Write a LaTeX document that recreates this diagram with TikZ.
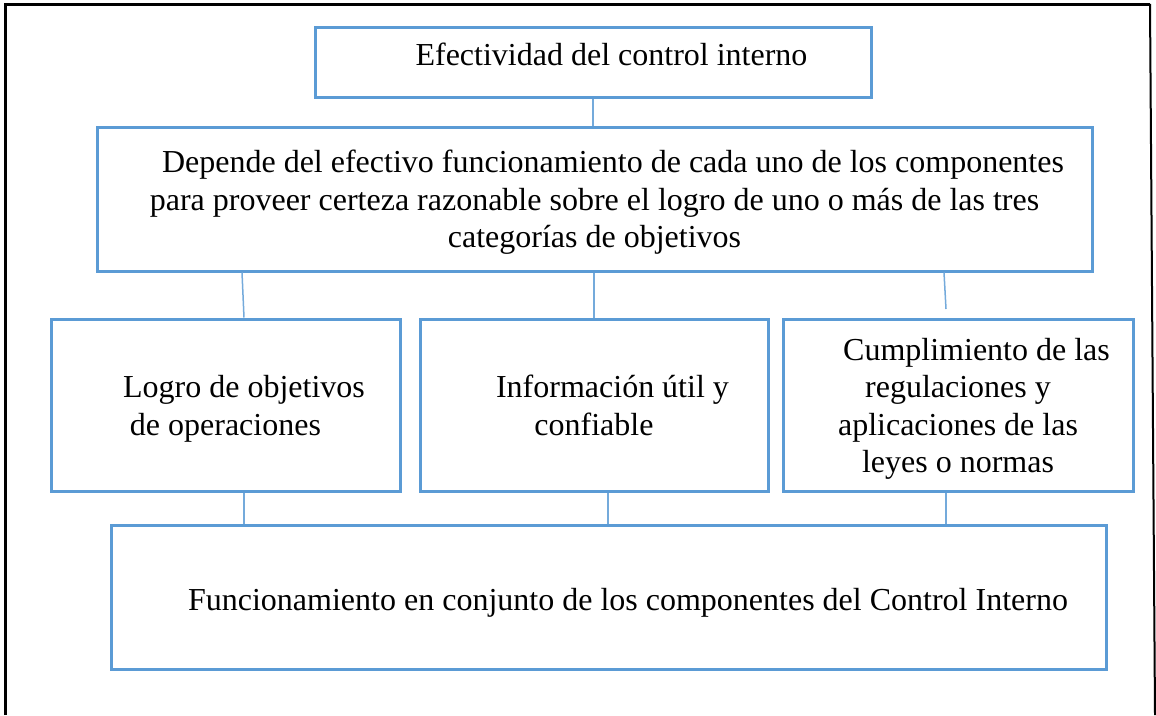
\documentclass[tikz,border=0pt]{standalone}
\usepackage{fontspec}
\setmainfont{Liberation Serif}
\definecolor{boxblue}{HTML}{5B9BD5}
\begin{document}
\begin{tikzpicture}[x=1pt,y=-1pt,
  box/.style={draw=boxblue, line width=3pt, rectangle, inner sep=0pt},
  txt/.style={align=center, inner sep=0pt, anchor=north, font=\fontsize{32}{37.5}\selectfont},
  conn/.style={draw=boxblue!85, line width=1.5pt},
  frame/.style={draw=black, line width=3pt}]
\useasboundingbox (0,0) rectangle (1156,715);
% outer frame
\draw[frame] (5,715) -- (5,4) -- (1150,4);
\draw[black, line width=2pt] (1150,4) -- (1155,715);
% boxes
\node[box, minimum width=556pt, minimum height=70pt] (top) at (593,62) {};
\node[box, minimum width=995pt, minimum height=144pt] (mid) at (594.5,199) {};
\node[box, minimum width=349pt, minimum height=172pt] (b1) at (225.5,405) {};
\node[box, minimum width=348pt, minimum height=172pt] (b2) at (594,405) {};
\node[box, minimum width=350pt, minimum height=172pt] (b3) at (958,405) {};
\node[box, minimum width=995pt, minimum height=144pt] (bot) at (608.5,597) {};
% texts
\node[txt] (ttop) at (593,34) {\hspace*{37pt}\rule{0pt}{31pt}Efectividad del control interno};
\node[txt] (tmid) at (594.5,141.5) {\hspace*{37pt}\rule{0pt}{31pt}Depende del efectivo funcionamiento de cada uno de los componentes\\para proveer certeza razonable sobre el logro de uno o más de las tres\\categorías de objetivos};
\node[txt] (tb1) at (225.5,366.5) {\hspace*{37pt}\rule{0pt}{31pt}Logro de objetivos\\de operaciones};
\node[txt] (tb2) at (594,366.5) {\hspace*{37pt}\rule{0pt}{31pt}Información útil y\\confiable};
\node[txt] (tb3) at (958,329) {\hspace*{37pt}\rule{0pt}{31pt}Cumplimiento de las\\regulaciones y\\aplicaciones de las\\leyes o normas};
\node[txt] (tbot) at (608.5,579) {\hspace*{39pt}\rule{0pt}{31pt}Funcionamiento en conjunto de los componentes del Control Interno};
% connectors
\coordinate (gap) at (946,309);
\draw[conn] (top.south) -- (mid.north -| top.south);
\draw[conn] (mid.south -| 242,0) -- (b1.north -| 244,0);
\draw[conn] (mid.south -| b2.north) -- (b2.north);
\draw[conn] (mid.south -| 944,0) -- (gap);
\draw[conn] (b1.south -| 244,0) -- (bot.north -| 244,0);
\draw[conn] (b2.south -| 608,0) -- (bot.north -| 608,0);
\draw[conn] (b3.south -| 946,0) -- (bot.north -| 946,0);
\end{tikzpicture}
\end{document}
